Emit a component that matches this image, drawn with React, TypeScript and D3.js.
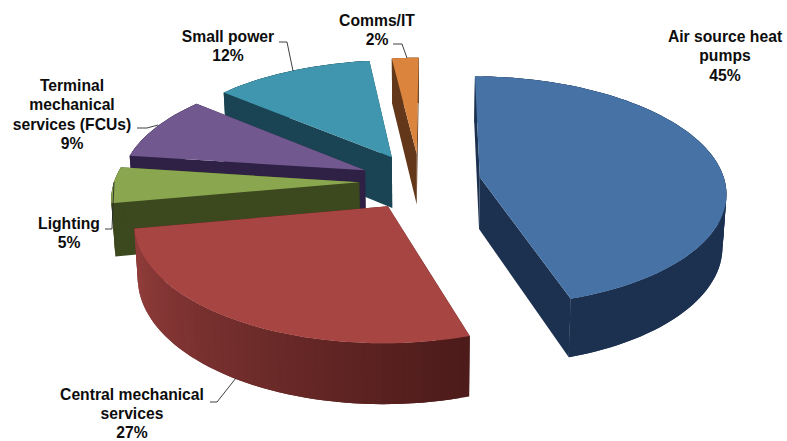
import React from "react";
import * as d3 from "d3";

// Share of energy use by end use, in percent
const categories = [
  "Air source heat pumps",
  "Central mechanical services",
  "Lighting",
  "Terminal mechanical services (FCUs)",
  "Small power",
  "Comms/IT",
];
const shares = [45, 27, 5, 9, 12, 2];

const topColors = ["#4672a6", "#a74543", "#8aa64e", "#71588f", "#3f96ae", "#da843d"];
const wallNear = ["#1c3150", "#4c1b1a", "#3c481e", "#2f2145", "#1a4453", "#63381a"];
const wallFar = ["#1c3150", "#963f3d", "#3c481e", "#2f2145", "#1a4453", "#63381a"];

// Slices are painted back to front
const paintOrder = [4, 3, 2, 1, 0, 5];

const W = 787;
const H = 441;
const firstAngle = (0.4 * Math.PI) / 180;

// Pie-plane to screen projection with mild perspective
const view = { cx: 420, cy: 181.5, ax: 245, ay: 114, persp: 0.12, depth: 52, taper: 0.987, explode: 0.248 };

type Pt = [number, number];

function project(x: number, y: number, lower: boolean): Pt {
  const w = 1 + view.persp * y;
  const sx = (view.ax * x) / w;
  const sy = (-view.ay * y) / w;
  if (!lower) return [view.cx + sx, view.cy + sy];
  return [view.cx + sx * view.taper, view.cy + sy + view.depth / w];
}

const pieLayout = d3
  .pie<number>()
  .sort(null)
  .value((d) => d)
  .startAngle(firstAngle)
  .endAngle(firstAngle + 2 * Math.PI);

const outline = d3.line<Pt>().x((p) => p[0]).y((p) => p[1]);
const closed = (pts: Pt[]) => outline(pts) + "Z";

type Label = { lines: string[]; x: number; y: number; leader: Pt[] };

// Callout text and leader placement, one entry per category
const labelText = [
  ["Air source heat", "pumps", "45%"],
  ["Central mechanical", "services", "27%"],
  ["Lighting", "5%"],
  ["Terminal", "mechanical", "services (FCUs)", "9%"],
  ["Small power", "12%"],
  ["Comms/IT", "2%"],
];
const labelAnchors: Pt[] = [
  [725, 42],
  [132, 399.5],
  [69, 229],
  [72, 91],
  [228, 42],
  [377, 26],
];
const leaders: Pt[][] = [
  [],
  [[210, 402], [217, 402], [236, 378]],
  [[105, 229], [112, 229], [114, 182]],
  [[137, 128], [147, 128], [158, 125]],
  [[279, 42], [287, 42], [293, 71]],
  [[393, 44], [402, 44], [407, 58]],
];
const labels: Label[] = labelText.map((lines, i) => ({
  lines,
  x: labelAnchors[i][0],
  y: labelAnchors[i][1],
  leader: leaders[i],
}));

function Slice({ arc, index }: { arc: d3.PieArcDatum<number>; index: number }) {
  const mid = (arc.startAngle + arc.endAngle) / 2;
  const ox = view.explode * Math.sin(mid);
  const oy = view.explode * Math.cos(mid);
  const rim = (a: number, lower: boolean) => project(ox + Math.sin(a), oy + Math.cos(a), lower);

  const sweep = arc.endAngle - arc.startAngle;
  const steps = Math.max(6, Math.round((sweep * 180) / Math.PI / 2));
  const angles = d3.range(steps + 1).map((i) => arc.startAngle + (sweep * i) / steps);
  const shade = d3
    .scaleLinear<string>()
    .domain([arc.startAngle, arc.endAngle])
    .range([wallNear[index], wallFar[index]])
    .interpolate(d3.interpolateRgb);

  const hub = project(ox, oy, false);
  const hubLow = project(ox, oy, true);
  const radial = (a: number) => closed([hub, rim(a, false), rim(a, true), hubLow]);
  const top = closed([hub, ...angles.map((a) => rim(a, false))]);
  const wall = wallNear[index];

  // Rim bands are drawn in order, each overlapping the previous one so no seams appear
  const band = (i: number) => {
    const run = angles.slice(i, Math.min(i + 2, steps) + 1);
    return closed([
      ...run.map((a) => rim(a, false)),
      ...run.slice().reverse().map((a) => rim(a, true)),
    ]);
  };

  return (
    <g>
      <path d={radial(arc.startAngle)} fill={wall} />
      <path d={radial(arc.endAngle)} fill={wall} />
      {angles.slice(0, -1).map((a, i) => (
        <path key={i} d={band(i)} fill={shade(a)} />
      ))}
      <path d={top} fill={topColors[index]} />
    </g>
  );
}

export default function App() {
  const arcs = pieLayout(shares);
  return (
    <svg
      width={W}
      height={H}
      viewBox={`0 0 ${W} ${H}`}
      role="img"
      aria-label={categories.join(", ")}
      style={{ position: "absolute", left: 0, top: 0, display: "block", background: "#fff" }}
    >
      {paintOrder.map((i) => (
        <Slice key={i} arc={arcs[i]} index={i} />
      ))}
      {labels.map((l, i) =>
        l.leader.length ? (
          <path key={i} d={outline(l.leader) ?? ""} fill="none" stroke="#2a2a2a" strokeWidth={0.9} />
        ) : null
      )}
      {labels.map((l, i) => (
        <text
          key={i}
          textAnchor="middle"
          fontFamily="'Liberation Sans', Arial, sans-serif"
          fontWeight={700}
          fontSize={15.7}
          fill="#0d0d0d"
        >
          {l.lines.map((line, j) => (
            <tspan key={j} x={l.x} y={l.y + j * 19.3}>
              {line}
            </tspan>
          ))}
        </text>
      ))}
    </svg>
  );
}
